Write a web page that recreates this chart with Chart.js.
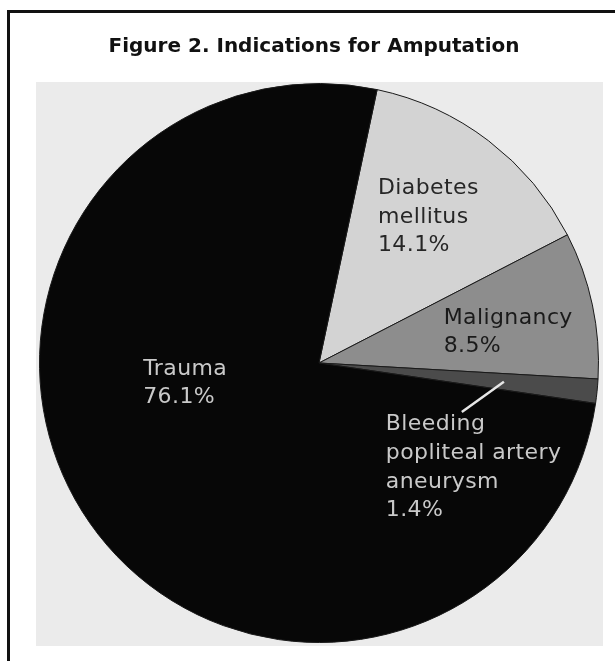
<!DOCTYPE html>
<html>
<head>
<meta charset="utf-8">
<script src="https://cdn.jsdelivr.net/npm/chart.js@4.4.1/dist/chart.umd.min.js"></script>
<style>
  html,body{margin:0;padding:0;background:#fff;}
  #wrap{width:615px;height:661px;position:relative;}
</style>
</head>
<body>
<div id="wrap"><canvas id="pie" width="615" height="661"></canvas></div>
<script>
// Figure 2 - indications for amputation, pie drawn by Chart.js, labels by a small plugin
const titleText = 'Figure 2. Indications for Amputation';
const categories = ['Diabetes mellitus', 'Malignancy', 'Bleeding popliteal artery aneurysm', 'Trauma'];
const shares = [14.1, 8.5, 1.4, 76.1];
const labelLines = [
  ['Diabetes', 'mellitus', '14.1%'],
  ['Malignancy', '8.5%'],
  ['Bleeding', 'popliteal artery', 'aneurysm', '1.4%'],
  ['Trauma', '76.1%']
];
const sliceColors = ['#d3d3d3', '#8d8d8d', '#4b4b4b', '#070707'];
const textColors = ['#262626', '#1a1a1a', '#c9c9c9', '#c9c9c9'];

// label start points as fractions of the radius from the pie centre (x right, y down)
const labelSpots = [[0.211, -0.625], [0.446, -0.161], [0.239, 0.221], [-0.629, 0.021]];
const leaderEnd = [0.511, 0.175]; // only the small slice gets a pointer

const pagePlugin = {
  id: 'page',
  beforeDraw(chart){
    const c = chart.ctx;
    c.save();
    c.fillStyle = '#fff';
    c.fillRect(0, 0, chart.width, chart.height);
    // gray photo box behind the pie
    c.fillStyle = '#ebebeb';
    c.fillRect(36, 82, 567, 564);
    // frame, only left and top edges are in view
    c.strokeStyle = '#111';
    c.lineWidth = 3;
    c.beginPath();
    c.moveTo(8.5, chart.height);
    c.lineTo(8.5, 11.5);
    c.lineTo(chart.width, 11.5);
    c.stroke();
    c.fillStyle = '#111';
    c.font = 'bold 20px "DejaVu Sans"';
    c.textAlign = 'center';
    c.textBaseline = 'alphabetic';
    c.fillText(titleText, 314, 52);
    c.restore();
  },
  afterDatasetsDraw(chart){
    const c = chart.ctx;
    const arcs = chart.getDatasetMeta(0).data;
    if(!arcs.length) return;
    const cx = arcs[0].x, cy = arcs[0].y, r = arcs[0].outerRadius;
    c.save();
    // leader line for the bleeding slice
    const b = arcs[2];
    const mid = (b.startAngle + b.endAngle) / 2;
    c.strokeStyle = '#e6e6e6';
    c.lineWidth = 2.5;
    c.beginPath();
    c.moveTo(cx + Math.cos(mid) * r * 0.665, cy + Math.sin(mid) * r * 0.665);
    c.lineTo(cx + leaderEnd[0] * r, cy + leaderEnd[1] * r);
    c.stroke();
    c.font = '22px "DejaVu Sans"';
    c.letterSpacing = '0.4px';
    c.textAlign = 'left';
    c.textBaseline = 'middle';
    const lh = r * 0.102;
    labelLines.forEach((lines, i) => {
      c.fillStyle = textColors[i];
      const x = cx + labelSpots[i][0] * r;
      const y = cy + labelSpots[i][1] * r;
      lines.forEach((t, k) => c.fillText(t, x, y + k * lh));
    });
    c.restore();
  }
};

new Chart(document.getElementById('pie'), {
  type: 'pie',
  data: {
    labels: categories,
    datasets: [{
      data: shares,
      backgroundColor: sliceColors,
      borderColor: '#1a1a1a',
      borderWidth: 1
    }]
  },
  options: {
    responsive: false,
    animation: false,
    rotation: 12,
    layout: {padding: {left: 39, right: 16, top: 83, bottom: 18}},
    plugins: {
      legend: {display: false},
      tooltip: {enabled: false},
      title: {display: false}
    }
  },
  plugins: [pagePlugin]
});
</script>
</body>
</html>
